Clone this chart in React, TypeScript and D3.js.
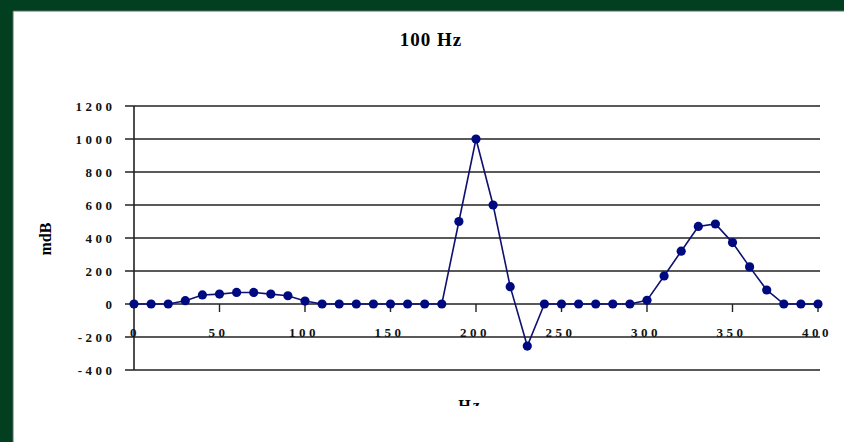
import React from "react";
import * as d3 from "d3";

const freqs: number[] = [0,10,20,30,40,50,60,70,80,90,100,110,120,130,140,150,160,170,180,190,200,210,220,230,240,250,260,270,280,290,300,310,320,330,340,350,360,370,380,390,400];
const values: number[] = [0,0,0,20,55,60,70,70,60,50,18,0,0,0,0,0,0,0,0,500,1000,600,105,-255,0,0,0,0,0,0,22,170,320,470,485,372,225,85,0,0,0];
const yTicks: number[] = [1200,1000,800,600,400,200,0,-200,-400];
const xTicks: number[] = [0,50,100,150,200,250,300,350,400];
const title = "100 Hz";
const yTitle = "mdB";
const xTitle = "Hz";

export default function App() {
  const W = 844, H = 442;
  const x = d3.scaleLinear().domain([0, 400]).range([134, 818]);
  const y = d3.scaleLinear().domain([-400, 1200]).range([370, 106]);
  const line = d3.line<number>().x((_, i) => x(freqs[i])).y(d => y(d));
  const font = "'Liberation Serif', 'DejaVu Serif', serif";
  const ls = 3.5;
  return (
    <div style={{ position: "fixed", left: 0, top: 0 }}>
      <svg width={W} height={H} style={{ display: "block" }}>
        <defs>
          <clipPath id="xt">
            <rect x={400} y={380} width={140} height={26} />
          </clipPath>
        </defs>
        <rect x={0} y={0} width={W} height={H} fill="#013f20" />
        <rect x={13} y={11} width={W - 13} height={H - 11} fill="#ffffff" />
        <line x1={13} y1={11} x2={W} y2={11} stroke="#5a6a60" strokeWidth={1} />
        <line x1={13} y1={11} x2={13} y2={H} stroke="#5a6a60" strokeWidth={1} />
        <text x={431} y={46} textAnchor="middle" fontFamily={font} fontWeight="bold" fontSize={19} letterSpacing={1} fill="#000">{title}</text>
        {yTicks.map(t => (
          <g key={t}>
            <line x1={125} x2={820} y1={y(t)} y2={y(t)} stroke="#222" strokeWidth={1.6} />
            <text x={112 + ls} y={y(t) + 4.5} textAnchor="end" fontFamily={font} fontWeight="bold" fontSize={13} letterSpacing={ls} fill="#111">{t}</text>
          </g>
        ))}
        <line x1={x(0)} x2={x(0)} y1={y(1200)} y2={y(-400)} stroke="#222" strokeWidth={1.6} />
        {xTicks.filter(t => t > 0).map(t => (
          <line key={"tk" + t} x1={x(t)} x2={x(t)} y1={y(0)} y2={y(0) + 8} stroke="#222" strokeWidth={1.4} />
        ))}
        {xTicks.map(t => (
          <text key={"xl" + t} x={t === 0 ? x(t) + 1 : x(t) - 1} y={337} textAnchor="middle" fontFamily={font} fontWeight="bold" fontSize={13} letterSpacing={ls} fill="#111">{t}</text>
        ))}
        <text transform={`translate(51,239) rotate(-90)`} textAnchor="middle" fontFamily={font} fontWeight="bold" fontSize={16} fill="#000">{yTitle}</text>
        <text x={470} y={411} textAnchor="middle" fontFamily={font} fontWeight="bold" fontSize={16} letterSpacing={2} fill="#000" clipPath="url(#xt)">{xTitle}</text>
        <path d={line(values) || ""} fill="none" stroke="#101070" strokeWidth={1.6} />
        {values.map((v, i) => (
          <circle key={i} cx={x(freqs[i])} cy={y(v)} r={4.6} fill="#000a80" />
        ))}
      </svg>
    </div>
  );
}
